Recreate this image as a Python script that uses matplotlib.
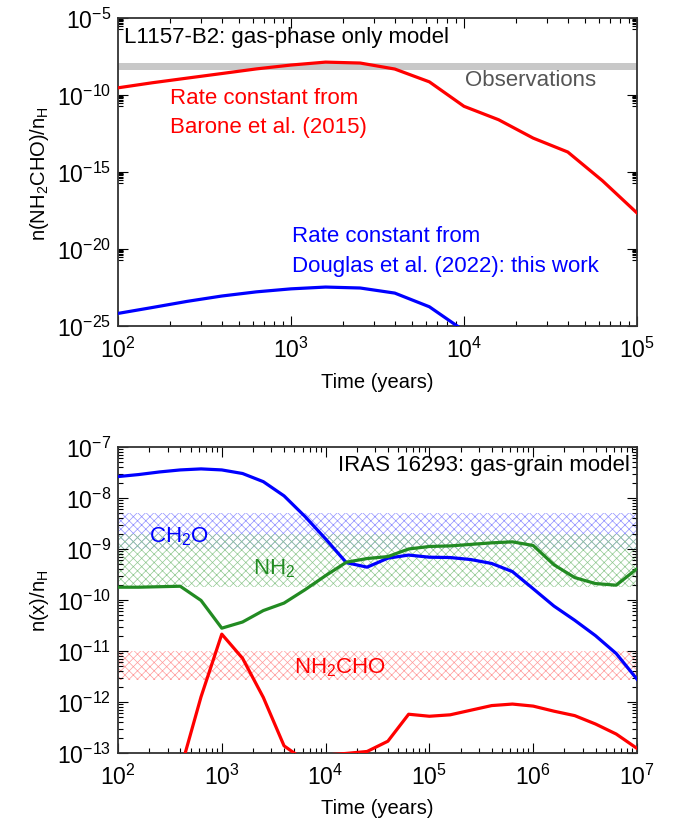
import matplotlib
matplotlib.use("Agg")
import matplotlib.pyplot as plt
import numpy as np
from matplotlib.ticker import FixedLocator, LogLocator, NullFormatter, LogFormatterSciNotation

plt.rcParams['font.family'] = ['Liberation Sans', 'DejaVu Sans']
plt.rcParams['mathtext.fontset'] = 'custom'
plt.rcParams['mathtext.rm'] = 'Liberation Sans'
plt.rcParams['mathtext.it'] = 'Liberation Sans:italic'
plt.rcParams['mathtext.bf'] = 'Liberation Sans:bold'
plt.rcParams['hatch.linewidth'] = 0.5

# ---------------- Top panel data (L1157-B2, gas-phase only) ----------------
t_top = [100, 158, 251, 398, 631, 1000, 1585, 2512, 3981, 6310,
         10000, 15849, 25119, 39811, 63096, 100000]
barone = [2.95e-10, 6.3e-10, 1.26e-9, 2.5e-9, 5.0e-9, 8.9e-9, 1.38e-8, 1.2e-8,
          4.9e-9, 7.2e-10, 1.86e-11, 2.5e-12, 1.6e-13, 2.0e-14, 2.75e-16, 2.2e-18]
t_douglas = [100, 158, 251, 398, 631, 1000, 1585, 2512, 3981, 6310, 10000]
douglas = [6.6e-25, 1.6e-24, 4.0e-24, 8.9e-24, 1.66e-23, 2.6e-23, 3.4e-23,
           2.95e-23, 1.38e-23, 1.78e-24, 5.0e-26]
obs_top = [4.4e-9, 1.2e-8]

# ---------------- Bottom panel data (IRAS 16293, gas-grain) ----------------
t_bot = [100, 158, 251, 398, 631, 1000, 1585, 2512, 3981, 6310,
         1.0e4, 1.585e4, 2.512e4, 3.981e4, 6.31e4,
         1.0e5, 1.585e5, 2.512e5, 3.981e5, 6.31e5,
         1.0e6, 1.585e6, 2.512e6, 3.981e6, 6.31e6, 1.0e7]
ch2o = [2.63e-8, 2.88e-8, 3.24e-8, 3.55e-8, 3.72e-8, 3.55e-8, 3.02e-8, 2.09e-8,
        1.10e-8, 4.37e-9, 1.58e-9, 5.4e-10, 4.4e-10, 6.6e-10, 7.6e-10, 6.9e-10,
        6.8e-10, 6.2e-10, 5.2e-10, 3.6e-10, 1.66e-10, 7.6e-11, 4.0e-11, 2.0e-11,
        8.9e-12, 2.8e-12]
nh2 = [1.78e-10, 1.78e-10, 1.82e-10, 1.86e-10, 9.8e-11, 2.8e-11, 3.7e-11, 6.2e-11,
       8.7e-11, 1.58e-10, 3.0e-10, 5.5e-10, 6.5e-10, 7.1e-10, 1.0e-9, 1.12e-9,
       1.15e-9, 1.23e-9, 1.32e-9, 1.38e-9, 1.17e-9, 4.9e-10, 2.75e-10, 2.1e-10,
       1.95e-10, 4.1e-10]
t_nh2cho = t_bot[3:]
nh2cho = [4.5e-14, 1.26e-12, 2.14e-11, 7.2e-12, 1.23e-12, 1.38e-13, 7.1e-14,
          9.1e-14, 9.8e-14, 1.07e-13, 1.7e-13, 5.75e-13, 5.25e-13, 5.6e-13,
          6.9e-13, 8.5e-13, 9.1e-13, 8.3e-13, 6.6e-13, 5.4e-13, 3.7e-13,
          2.35e-13, 1.23e-13]
obs_ch2o = [1.0e-9, 5.1e-9]
obs_nh2 = [1.8e-10, 2.0e-9]
obs_nh2cho = [2.7e-12, 1.0e-11]

RED = '#ff0000'
BLUE = '#0000ff'
GREEN = '#228b22'
FS_TXT = 16
FS_TICK = 16.5
FS_LAB = 14.5

fig = plt.figure(figsize=(6.73, 8.29), dpi=100)
ax1 = fig.add_axes([0.1753, 0.6055, 0.7712, 0.3715])
ax2 = fig.add_axes([0.1753, 0.0905, 0.7712, 0.3691])


def style(ax):
    for s in ax.spines.values():
        s.set_color('#333333')
        s.set_linewidth(1.3)
    ax.tick_params(which='both', direction='in', top=True, right=True,
                   labelsize=FS_TICK, width=0.8, color='black')
    ax.tick_params(axis='x', which='both', pad=8)
    ax.tick_params(axis='y', which='both', pad=5)
    ax.tick_params(which='major', length=7)
    ax.tick_params(which='minor', length=3.8)


# ---------- top ----------
ax1.set_xscale('log')
ax1.set_yscale('log')
ax1.set_xlim(1e2, 1e5)
ax1.set_ylim(1e-25, 1e-5)
ax1.fill_between([1e2, 1e5], obs_top[0], obs_top[1], color='#c8c8c8', lw=0, zorder=1)
ax1.plot(t_top, barone, color=RED, lw=2.3, zorder=3)
ax1.plot(t_douglas, douglas, color=BLUE, lw=2.3, zorder=3)
style(ax1)
ax1.yaxis.set_major_locator(FixedLocator([1e-25, 1e-20, 1e-15, 1e-10, 1e-5]))
ax1.yaxis.set_major_formatter(LogFormatterSciNotation())
minors = []
for e in [-6, -11, -16, -21]:
    minors += [k * 10.0 ** e for k in range(2, 10)]
ax1.yaxis.set_minor_locator(FixedLocator(minors))
ax1.yaxis.set_minor_formatter(NullFormatter())
ax1.xaxis.set_major_locator(LogLocator(base=10, numticks=10))
ax1.xaxis.set_minor_locator(LogLocator(base=10, subs=np.arange(2, 10), numticks=10))
ax1.xaxis.set_minor_formatter(NullFormatter())
ax1.set_xlabel('Time (years)', fontsize=FS_LAB, labelpad=7)
ax1.set_ylabel(r'n(NH$_2$CHO)/n$_\mathrm{H}$', fontsize=FS_LAB, labelpad=4)

ax1.text(0.012, 0.94, 'L1157-B2: gas-phase only model', transform=ax1.transAxes,
         fontsize=FS_TXT, ha='left', va='center', color='black')
ax1.text(0.669, 0.802, 'Observations', transform=ax1.transAxes,
         fontsize=FS_TXT, ha='left', va='center', color='#555555')
ax1.text(0.100, 0.7435, 'Rate constant from', transform=ax1.transAxes,
         fontsize=FS_TXT, ha='left', va='center', color=RED)
ax1.text(0.100, 0.649, 'Barone et al. (2015)', transform=ax1.transAxes,
         fontsize=FS_TXT, ha='left', va='center', color=RED)
ax1.text(0.335, 0.2955, 'Rate constant from', transform=ax1.transAxes,
         fontsize=FS_TXT, ha='left', va='center', color=BLUE)
ax1.text(0.335, 0.198, 'Douglas et al. (2022): this work', transform=ax1.transAxes,
         fontsize=FS_TXT, ha='left', va='center', color=BLUE)

# ---------- bottom ----------
ax2.set_xscale('log')
ax2.set_yscale('log')
ax2.set_xlim(1e2, 1e7)
ax2.set_ylim(1e-13, 1e-7)
ax2.fill_between([1e2, 1e7], obs_ch2o[0], obs_ch2o[1], facecolor='none',
                 edgecolor='#9090ff', hatch='xxxx', lw=0, zorder=1)
ax2.fill_between([1e2, 1e7], obs_nh2[0], obs_nh2[1], facecolor='none',
                 edgecolor='#90c890', hatch='xxxx', lw=0, zorder=1)
ax2.fill_between([1e2, 1e7], obs_nh2cho[0], obs_nh2cho[1], facecolor='none',
                 edgecolor='#ff9a9a', hatch='xxxx', lw=0, zorder=1)
ax2.plot(t_bot, ch2o, color=BLUE, lw=2.3, zorder=3)
ax2.plot(t_bot, nh2, color=GREEN, lw=2.3, zorder=3)
ax2.plot(t_nh2cho, nh2cho, color=RED, lw=2.3, zorder=3)
style(ax2)
ax2.xaxis.set_major_locator(LogLocator(base=10, numticks=10))
ax2.xaxis.set_minor_locator(LogLocator(base=10, subs=np.arange(2, 10), numticks=10))
ax2.xaxis.set_minor_formatter(NullFormatter())
ax2.yaxis.set_major_locator(LogLocator(base=10, numticks=10))
ax2.yaxis.set_minor_locator(LogLocator(base=10, subs=np.arange(2, 10), numticks=10))
ax2.yaxis.set_minor_formatter(NullFormatter())
ax2.set_xlabel('Time (years)', fontsize=FS_LAB, labelpad=6)
ax2.set_ylabel(r'n(x)/n$_\mathrm{H}$', fontsize=FS_LAB, labelpad=4)

ax2.text(0.9865, 0.944, 'IRAS 16293: gas-grain model', transform=ax2.transAxes,
         fontsize=FS_TXT, ha='right', va='center', color='black')
ax2.text(0.06, 0.6905, r'CH$_2$O', transform=ax2.transAxes,
         fontsize=FS_TXT, ha='left', va='baseline', color=BLUE)
ax2.text(0.26, 0.587, r'NH$_2$', transform=ax2.transAxes,
         fontsize=FS_TXT, ha='left', va='baseline', color=GREEN)
ax2.text(0.339, 0.2637, r'NH$_2$CHO', transform=ax2.transAxes,
         fontsize=FS_TXT, ha='left', va='baseline', color=RED)

fig.savefig('out.png', dpi=100)
